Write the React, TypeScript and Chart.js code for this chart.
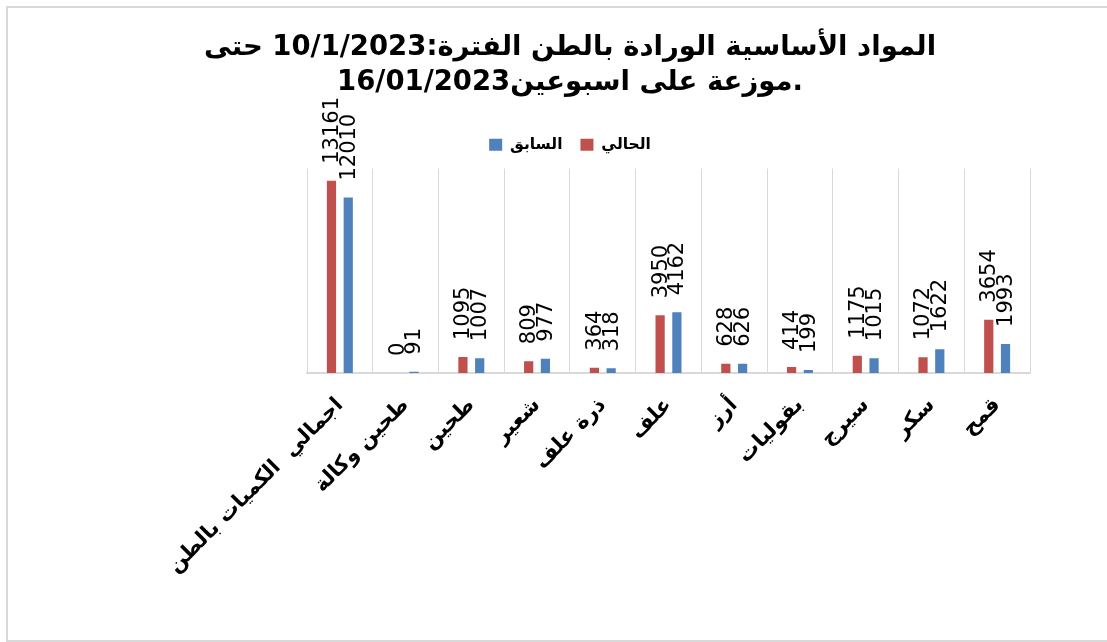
import React, { useEffect, useRef } from "react";
import { Chart, registerables } from "chart.js";

Chart.register(...registerables);

const categories = [
  "اجمالي  الكميات بالطن",
  "طحين وكالة",
  "طحين",
  "شعير",
  "ذرة علف",
  "علف",
  "أرز",
  "بقوليات",
  "سيرج",
  "سكر",
  "قمح",
];
const currentValues = [13161, 0, 1095, 809, 364, 3950, 628, 414, 1175, 1072, 3654];
const previousValues = [12010, 91, 1007, 977, 318, 4162, 626, 199, 1015, 1622, 1993];
const seriesNames = ["الحالي", "السابق"];
const titleLines = [
  "المواد الأساسية الورادة بالطن الفترة:10/1/2023 حتى",
  "16/01/2023موزعة على اسبوعين.",
];
const yMax = 14000;

const RED = "#C0504D";
const BLUE = "#4F81BD";
const GRID = "#d9d9d9";

const frame = {
  id: "frame",
  beforeDraw(chart: any) {
    const { ctx, width, height } = chart;
    ctx.save();
    ctx.fillStyle = "#ffffff";
    ctx.fillRect(0, 0, width, height);
    ctx.strokeStyle = GRID;
    ctx.lineWidth = 2;
    ctx.strokeRect(7, 7, width + 20, height - 8);
    ctx.restore();
  },
};

const valueLabels = {
  id: "valueLabels",
  afterDatasetsDraw(chart: any) {
    const { ctx } = chart;
    ctx.save();
    ctx.fillStyle = "#000000";
    ctx.font = "21px 'DejaVu Sans'";
    ctx.textAlign = "left";
    ctx.textBaseline = "middle";
    chart.data.datasets.forEach((ds: any, di: number) => {
      const meta = chart.getDatasetMeta(di);
      meta.data.forEach((bar: any, i: number) => {
        ctx.save();
        ctx.translate(bar.x, bar.y - 17);
        ctx.rotate(-Math.PI / 2);
        ctx.fillText(String(ds.data[i]), 0, 1);
        ctx.restore();
      });
    });
    ctx.restore();
  },
};

export default function App() {
  const ref = useRef<HTMLCanvasElement | null>(null);
  useEffect(() => {
    document.body.style.margin = "0";
    const canvas = ref.current!;
    const chart = new Chart(canvas, {
      type: "bar",
      data: {
        labels: categories,
        datasets: [
          {
            label: seriesNames[0],
            data: currentValues,
            backgroundColor: RED,
            categoryPercentage: 0.51,
            barPercentage: 0.55,
          },
          {
            label: seriesNames[1],
            data: previousValues,
            backgroundColor: BLUE,
            categoryPercentage: 0.51,
            barPercentage: 0.55,
          },
        ],
      },
      options: {
        responsive: false,
        animation: false,
        layout: { padding: { left: 40, right: 7, top: 12, bottom: 0 } },
        plugins: {
          title: {
            display: true,
            text: titleLines,
            color: "#000000",
            font: { family: "'DejaVu Sans'", size: 27.5, weight: "bold", lineHeight: 1.273 },
            padding: { top: 18, bottom: 19 },
          },
          subtitle: {
            display: true,
            text: "",
            weight: 500,
            font: { size: 1, lineHeight: 1 },
            padding: { top: 5, bottom: 0 },
          },
          legend: {
            display: true,
            position: "top",
            reverse: true,
            labels: {
              boxWidth: 13,
              boxHeight: 12,
              color: "#000000",
              padding: 18,
              font: { family: "'DejaVu Sans'", size: 15.5, weight: "bold" },
            },
          },
          tooltip: { enabled: false },
        },
        scales: {
          x: {
            grid: { display: true, color: GRID, lineWidth: 1, drawTicks: false, offset: true },
            border: { display: true, color: GRID, width: 2 },
            ticks: {
              color: "#000000",
              minRotation: 45,
              maxRotation: 45,
              autoSkip: false,
              padding: 20,
              font: { family: "'DejaVu Sans'", size: 21, weight: "bold" },
            },
            afterFit: (s: any) => {
              s.height = 642 - 373;
            },
          },
          y: {
            min: 0,
            max: yMax,
            display: true,
            grid: { display: false },
            border: { display: false },
            ticks: { display: false },
            afterFit: (s: any) => {
              s.width = 307 - 40;
            },
          },
          y2: {
            position: "right",
            display: true,
            grid: { display: false },
            border: { display: false },
            ticks: { display: false },
            afterFit: (s: any) => {
              s.width = 1107 - 7 - 1030;
            },
          },
        },
      },
      plugins: [frame, valueLabels],
    });
    return () => chart.destroy();
  }, []);
  return <canvas ref={ref} width={1107} height={642} style={{ display: "block" }} />;
}
